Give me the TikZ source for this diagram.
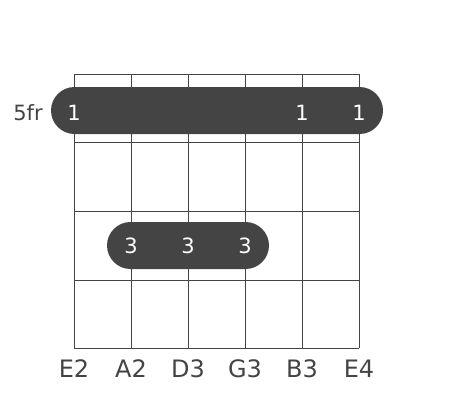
\documentclass[tikz,border=0pt]{standalone}
\usepackage{fontspec}
\setmainfont{DejaVu Sans}
\definecolor{ink}{HTML}{444444}
\begin{document}
\begin{tikzpicture}[x=1pt,y=-1pt,
  grid/.style={draw=ink,line width=1pt},
  barre/.style={fill=ink},
  finger/.style={text=white,font=\fontsize{21}{21}\selectfont,anchor=base,inner sep=0pt},
  strlabel/.style={text=ink,font=\fontsize{24}{24}\selectfont,anchor=base,inner sep=0pt},
  fretlabel/.style={text=ink,font=\fontsize{21}{21}\selectfont,anchor=base,inner sep=0pt}]
\useasboundingbox (0,0) rectangle (457,400);
% grid
\foreach \x in {74,131,188,245,302,359} \draw[grid] (\x,74) -- (\x,348);
\foreach \y in {74,142,211,280,348} \draw[grid] (74,\y) -- (359,\y);
% barres
\fill[barre,rounded corners=23.5pt] (51,87) rectangle (383,134);
\fill[barre,rounded corners=23.5pt] (107,222) rectangle (269,269);
% finger numbers
\node[finger] (f1) at (74,120) {1};
\node[finger] (f5) at (302,120) {1};
\node[finger] (f6) at (359,120) {1};
\node[finger] (g2) at (131,253) {3};
\node[finger] (g3) at (188,253) {3};
\node[finger] (g4) at (245,253) {3};
% fret label
\node[fretlabel] (fr) at (28,120) {5fr};
% string labels
\node[strlabel] (s1) at (74,377) {E2};
\node[strlabel] (s2) at (131,377) {A2};
\node[strlabel] (s3) at (188,377) {D3};
\node[strlabel] (s4) at (245,377) {G3};
\node[strlabel] (s5) at (302,377) {B3};
\node[strlabel] (s6) at (359,377) {E4};
\end{tikzpicture}
\end{document}
